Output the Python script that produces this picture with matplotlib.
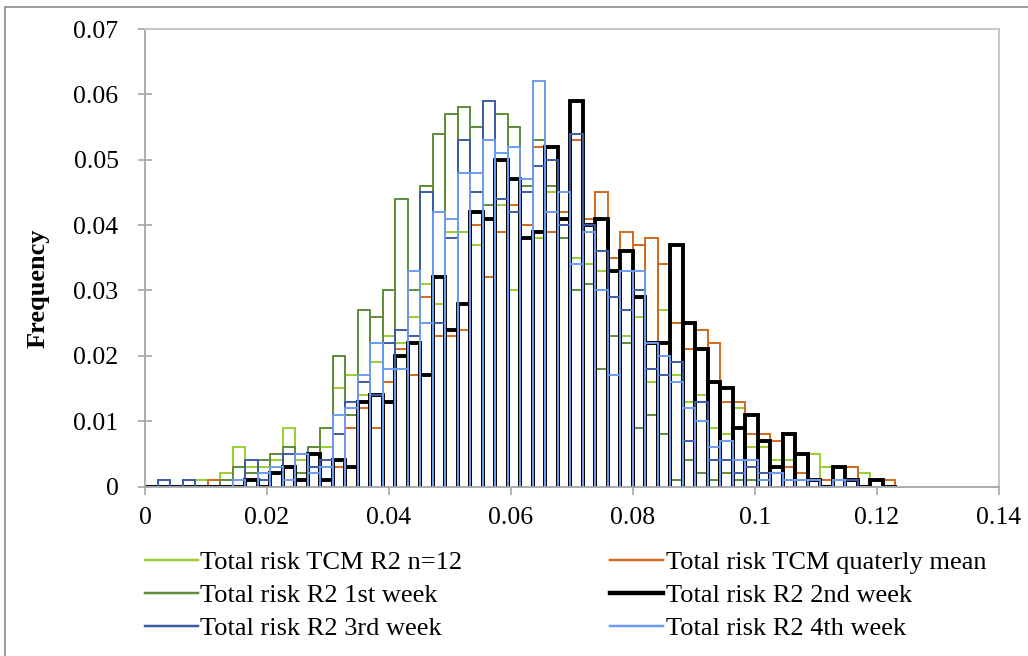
import numpy as np
import matplotlib
matplotlib.use('Agg')
import matplotlib.pyplot as plt
from matplotlib.lines import Line2D

plt.rcParams['font.family'] = ['Liberation Serif', 'DejaVu Serif']

# histogram bins: 60 bins from 0 to 0.123
n_bins = 60
bin_width = 0.123 / n_bins

# frequencies per bin (in thousandths)
tcm_n12 = [0, 0, 0, 0, 1, 0, 2, 6, 3, 3, 4, 9, 4, 5, 6, 15, 17, 14, 19, 23,
           22, 26, 31, 28, 39, 39, 37, 43, 43, 30, 40, 38, 45, 42, 35, 34, 33, 35, 23, 26,
           16, 27, 17, 13, 14, 9, 8, 12, 6, 6, 4, 4, 5, 5, 3, 0, 0, 2, 0, 0]
tcm_quarterly = [0, 0, 0, 0, 0, 1, 0, 0, 0, 0, 0, 0, 0, 3, 0, 3, 9, 12, 9, 16,
                 21, 17, 29, 23, 23, 24, 40, 32, 39, 43, 40, 52, 39, 42, 53, 41, 45, 35, 39, 37,
                 38, 34, 25, 21, 24, 22, 13, 13, 8, 8, 7, 3, 2, 0, 1, 3, 3, 0, 1, 1]
week1 = [0, 0, 0, 0, 0, 0, 1, 3, 2, 4, 5, 6, 2, 6, 9, 20, 11, 27, 26, 30,
         44, 30, 46, 54, 57, 58, 55, 43, 57, 55, 46, 53, 46, 38, 30, 31, 18, 23, 22, 9,
         11, 8, 1, 4, 2, 1, 2, 1, 1, 1, 0, 0, 0, 0, 0, 0, 0, 0, 0, 0]
week2 = [0, 0, 0, 0, 0, 0, 0, 0, 1, 0, 2, 3, 1, 5, 1, 4, 3, 13, 14, 13,
         20, 22, 17, 32, 24, 28, 42, 41, 50, 47, 38, 39, 52, 41, 59, 40, 41, 33, 36, 29,
         22, 22, 37, 25, 21, 16, 15, 9, 11, 7, 3, 8, 5, 1, 0, 3, 1, 0, 1, 0]
week3 = [0, 1, 0, 1, 0, 0, 0, 0, 4, 1, 0, 5, 5, 3, 4, 8, 13, 16, 14, 22,
         24, 23, 45, 25, 38, 53, 45, 59, 44, 42, 45, 49, 50, 40, 54, 40, 36, 29, 27, 30,
         18, 17, 19, 7, 13, 4, 4, 2, 3, 2, 2, 1, 1, 1, 0, 0, 1, 0, 0, 0]
week4 = [0, 0, 0, 0, 0, 0, 0, 1, 0, 2, 3, 1, 5, 2, 3, 11, 12, 17, 22, 18,
         18, 33, 25, 42, 41, 48, 48, 53, 51, 52, 47, 62, 42, 45, 34, 39, 30, 17, 33, 33,
         22, 20, 16, 12, 10, 6, 7, 4, 4, 1, 2, 1, 1, 1, 0, 1, 0, 0, 0, 0]

labels = ['Total risk TCM R2 n=12', 'Total risk TCM quaterly mean',
          'Total risk R2 1st week', 'Total risk R2 2nd week',
          'Total risk R2 3rd week', 'Total risk R2 4th week']
colors = ['#9ACD32', '#D2691E', '#5E8C3A', '#000000', '#3B5BA5', '#6B9BF2']
widths = [1.4, 1.4, 1.4, 2.8, 1.4, 1.4]
series = [tcm_n12, tcm_quarterly, week1, week2, week3, week4]


def outline(vals):
    # trace every bar as up / across / down, like the excel line chart
    xs, ys = [], []
    for k, v in enumerate(vals):
        left = k * bin_width
        right = (k + 1) * bin_width
        f = v / 1000.0
        xs += [left, left, right, right]
        ys += [0, f, f, 0]
    return xs, ys


fig = plt.figure(figsize=(10.28, 6.56), dpi=100)
ax = fig.add_axes([145 / 1028, 1 - 486.5 / 656, (999 - 145) / 1028, (486.5 - 29) / 656])

handles = []
for vals, c, lw, lab in zip(series, colors, widths, labels):
    xs, ys = outline(vals)
    ax.plot(xs, ys, color=c, lw=lw, solid_joinstyle='miter')
    handles.append(Line2D([], [], color=c, lw=lw + 0.4, label=lab))

ax.set_xlim(0, 0.14)
ax.set_ylim(0, 0.07)
ax.set_xticks(np.arange(0, 0.141, 0.02))
ax.set_xticklabels(['0', '0.02', '0.04', '0.06', '0.08', '0.1', '0.12', '0.14'])
ax.set_yticks(np.arange(0, 0.071, 0.01))
ax.set_yticklabels(['0', '0.01', '0.02', '0.03', '0.04', '0.05', '0.06', '0.07'])
ax.tick_params(axis='x', direction='out', length=6, width=1.2, color='#A6A6A6',
               labelsize=18.5, pad=9)
ax.tick_params(axis='y', direction='inout', length=10, width=1.2, color='#A6A6A6',
               labelsize=18.5, pad=14)
for s in ['left', 'bottom']:
    ax.spines[s].set_color('#A6A6A6')
    ax.spines[s].set_linewidth(1.3)
for s in ['top', 'right']:
    ax.spines[s].set_color('#C8C8C8')
    ax.spines[s].set_linewidth(1.5)

fig.text(38 / 1028, 1 - 288 / 656, 'Frequency', rotation=90, ha='center', va='center',
         fontsize=19, fontweight='bold')

# legend rows read across, so columns are n12/1st/3rd and quarterly/2nd/4th
order = [0, 2, 4, 1, 3, 5]
fig.legend([handles[i] for i in order], [labels[i] for i in order], ncol=2,
           loc='upper left', bbox_to_anchor=(145 / 1028, 1 - 551 / 656), frameon=False,
           fontsize=19, handlelength=2.0, handletextpad=0.1, labelspacing=0.36,
           columnspacing=5.6, borderpad=0, borderaxespad=0)

# chart area border
fig.add_artist(Line2D([5 / 1028, 1], [1 - 7 / 656, 1 - 7 / 656], transform=fig.transFigure,
                      color='#8C8C8C', lw=1.2))
fig.add_artist(Line2D([5 / 1028, 5 / 1028], [0, 1 - 7 / 656], transform=fig.transFigure,
                      color='#8C8C8C', lw=1.2))

fig.savefig('out.png', dpi=100)
